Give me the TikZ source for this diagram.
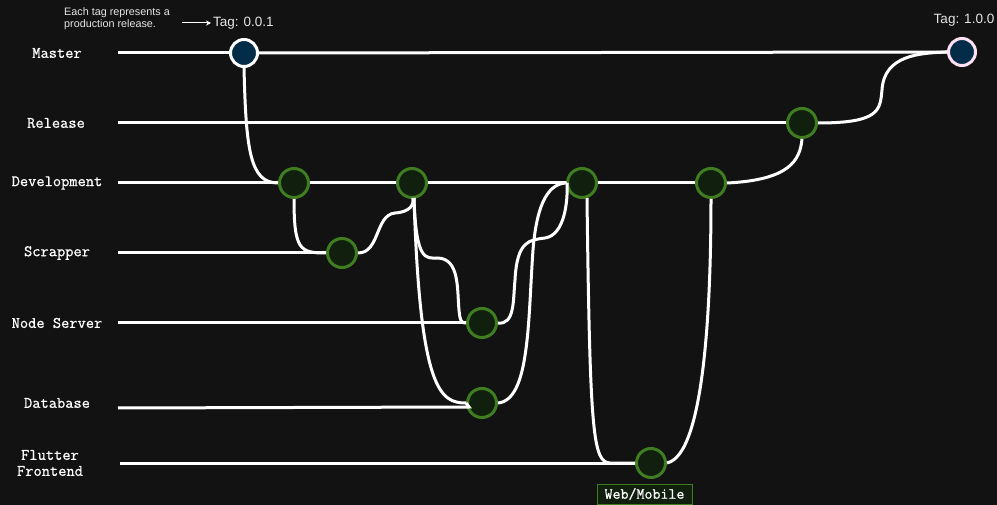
\documentclass[tikz,border=0pt]{standalone}
\usepackage{fontspec}
\setmainfont{Liberation Sans}
\newfontfamily\monofont{Latin Modern Mono}[FakeBold=0.8]
\usetikzlibrary{arrows.meta}
\definecolor{bg}{HTML}{121212}
\definecolor{gfill}{HTML}{11200E}
\definecolor{gline}{HTML}{3F7D20}
\definecolor{bfill}{HTML}{022C48}
\definecolor{pinkline}{HTML}{FFE0F2}
\begin{document}
\begin{tikzpicture}[x=1pt,y=-1pt,
  wire/.style={draw=white,line width=3pt},
  commit/.style={circle,minimum size=29pt,inner sep=0pt,line width=3pt,draw=gline,fill=gfill},
  tagc/.style={circle,minimum size=27pt,inner sep=0pt,line width=3pt,draw=white,fill=bfill},
  lbl/.style={text=white,font=\monofont\fontsize{16}{16}\selectfont,align=center},
  note/.style={text=white!90!black,font=\fontsize{13.5}{15}\selectfont}]
\fill[bg] (0,0) rectangle (997,505);
\useasboundingbox (0,0) rectangle (997,505);
% labels
\node[lbl] (lmaster) at (57,53) {Master};
\node[lbl] (lrel) at (56,123) {Release};
\node[lbl] (ldev) at (57,183) {Development};
\node[lbl] (lscr) at (57,253) {Scrapper};
\node[lbl] (lns) at (57,323) {Node Server};
\node[lbl] (ldb) at (57,403) {Database};
\node[lbl] (lfl) at (50,463) {Flutter\\Frontend};
% line starts
\coordinate (smaster) at (118,53);
\coordinate (srel) at (118,123);
\coordinate (sdev) at (118,183);
\coordinate (sscr) at (118,253);
\coordinate (sns) at (118,323);
\coordinate (sdb) at (118,408);
\coordinate (sfl) at (120,463);
% commits
\node[commit] (rel1) at (802,123) {};
\node[commit] (dev1) at (294,183) {};
\node[commit] (dev2) at (412,183) {};
\node[commit] (dev3) at (582,183) {};
\node[commit] (dev4) at (711,183) {};
\node[commit] (scr1) at (342,253) {};
\node[commit] (ns1) at (482,323) {};
\node[commit] (db1) at (482,403) {};
\node[commit] (fl1) at (651,463) {};
\node[tagc] (t1) at (244,53) {};
\node[tagc,draw=pinkline] (t2) at (962,52) {};
% straight lines
\draw[wire] (smaster) -- (t1.west);
\draw[wire] (t1.east) -- (t2.west);
\draw[wire] (srel) -- (rel1.west);
\draw[wire] (sdev) -- (dev1.west);
\draw[wire] (dev1.east) -- (dev2.west);
\draw[wire] (dev2.east) -- (dev3.west);
\draw[wire] (dev3.east) -- (dev4.west);
\draw[wire] (sscr) -- (scr1.west);
\draw[wire] (sns) -- (ns1.west);
\draw[wire] (sdb) -- (469,407) -- (db1.west);
\draw[wire] (sfl) -- (fl1.west);
% curves
\draw[wire] (t1.south) .. controls (246,150) and (250,183) .. (dev1.west);
\draw[wire] (dev1.south) .. controls (294,250) and (300,253) .. (scr1.west);
\draw[wire] (scr1.east) .. controls (380,253) and (375,215) .. (395,213) .. controls (410,212) and (414,205) .. (413,198);
\draw[wire] (414,198) .. controls (416,262) and (426,258) .. (437,258) .. controls (460,258) and (457,290) .. (459,310) .. controls (460,322) and (462,323) .. (ns1.west);
\draw[wire] (414,198) .. controls (420,390) and (440,403) .. (db1.west);
\draw[wire] (ns1.east) .. controls (515,325) and (513,300) .. (515,280) .. controls (517,240) and (530,240) .. (545,238) .. controls (565,235) and (568,200) .. (567,183);
\draw[wire] (db1.east) .. controls (530,400) and (528,320) .. (533,250) .. controls (537,200) and (550,183) .. (567,183);
\draw[wire] (587,198) .. controls (590,435) and (593,462) .. (610,463) -- (fl1.west);
\draw[wire] (fl1.east) .. controls (705,455) and (711,300) .. (dev4.south);
\draw[wire] (dev4.east) .. controls (790,180) and (800,160) .. (rel1.south);
\draw[wire] (rel1.east) .. controls (880,123) and (880,110) .. (882,90) .. controls (884,55) and (920,53) .. (t2.west);
% tags and notes
\node[commit,rectangle,minimum size=0pt,minimum width=95pt,minimum height=20pt,line width=1pt,inner sep=0pt,text=white,font=\monofont\fontsize{15.5}{15.5}\selectfont] (wm) at (644.5,494) {Web/Mobile};
\node[note,font=\fontsize{10.8}{12}\selectfont,align=left] (expl) at (117,19) {Each tag represents a\\production release.};
\node[note,anchor=west,inner xsep=2pt] (tag1) at (211,23) {Tag: 0.0.1};
\node[note] (tag2) at (964,20) {Tag: 1.0.0};
\draw[white,line width=1pt,-{Stealth[length=5pt,width=5pt]}] (182,23) -- (tag1.west);
\end{tikzpicture}
\end{document}
